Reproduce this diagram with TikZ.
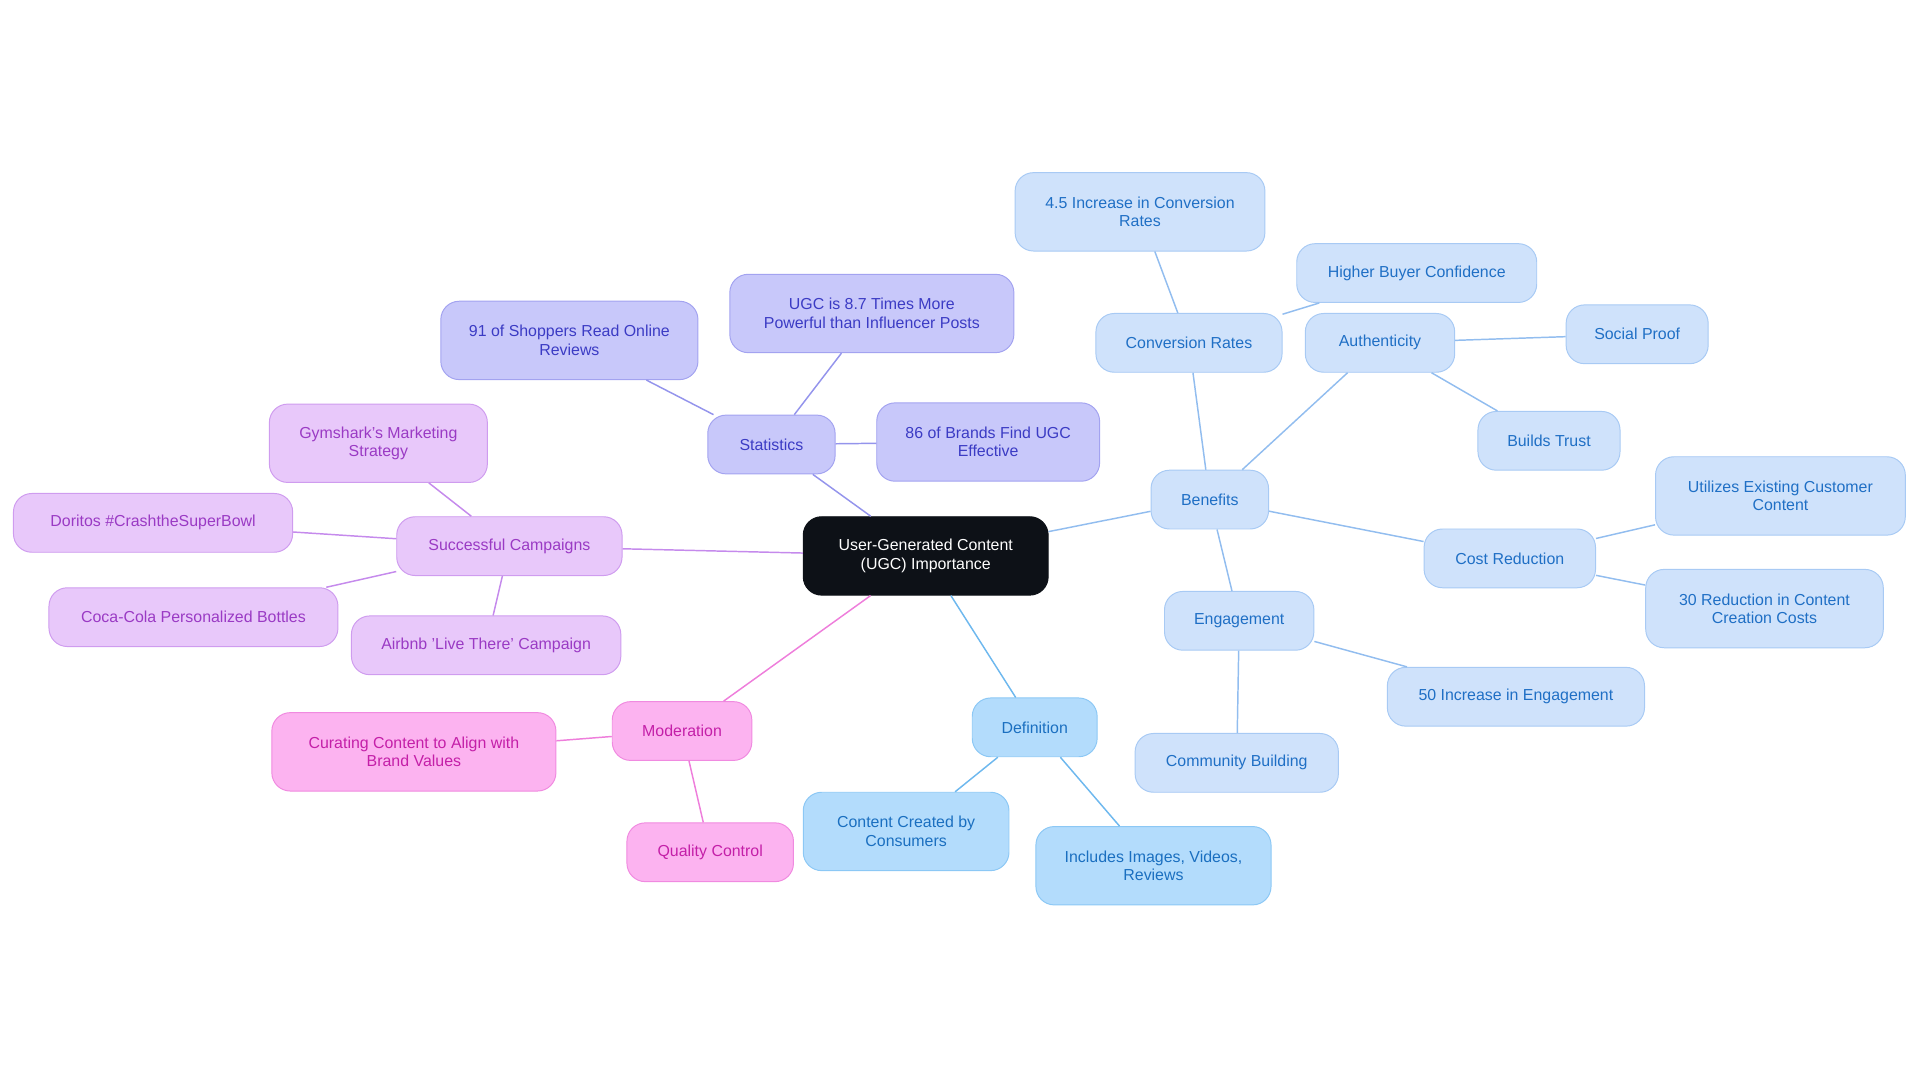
\documentclass[tikz,border=0pt]{standalone}
\usepackage{fontspec}
\setmainfont{Liberation Sans}
\begin{document}
\begin{tikzpicture}[x=1pt,y=-1pt,
  base/.style={rounded corners=15pt,align=center,minimum height=48pt,line width=0.8pt,font=\fontsize{13}{15}\selectfont,inner sep=2pt},
  two/.style={minimum height=64pt},
  bl/.style={base,fill=bfill,draw=bdraw,text=btext},
  df/.style={base,fill=dfill,draw=ddraw,text=dtext},
  st/.style={base,fill=sfill,draw=sdraw,text=stext},
  sc/.style={base,fill=cfill,draw=cdraw,text=ctext},
  md/.style={base,fill=mfill,draw=mdraw,text=mtext},
  eb/.style={draw=bline,line width=1.2pt},
  ed/.style={draw=dline,line width=1.2pt},
  es/.style={draw=sline,line width=1.2pt},
  ec/.style={draw=cline,line width=1.2pt},
  em/.style={draw=mline,line width=1.2pt}]
\definecolor{bfill}{HTML}{CFE2FB}\definecolor{bdraw}{HTML}{A8CAF4}\definecolor{btext}{HTML}{1F6FC5}\definecolor{bline}{HTML}{92BDEF}
\definecolor{dfill}{HTML}{B3DCFC}\definecolor{ddraw}{HTML}{8CC8F5}\definecolor{dtext}{HTML}{1A6FC0}\definecolor{dline}{HTML}{6EB8EE}
\definecolor{sfill}{HTML}{C8C8FA}\definecolor{sdraw}{HTML}{A3A3F0}\definecolor{stext}{HTML}{3B3BC4}\definecolor{sline}{HTML}{9494EC}
\definecolor{cfill}{HTML}{E8C8FA}\definecolor{cdraw}{HTML}{CF9CEF}\definecolor{ctext}{HTML}{9A3AC4}\definecolor{cline}{HTML}{C58AEC}
\definecolor{mfill}{HTML}{FCB3F0}\definecolor{mdraw}{HTML}{F08AE0}\definecolor{mtext}{HTML}{C41FA8}\definecolor{mline}{HTML}{EE7EDB}
\definecolor{cen}{HTML}{0D1117}
\useasboundingbox (0,0) rectangle (1568,884);
\node[base,fill=cen,draw=cen,text=white,minimum width=200pt,minimum height=64pt] (c) at (756,454) {User-Generated Content\\(UGC) Importance};
\node[bl,minimum width=96pt] (ben) at (988,408) {Benefits};
\node[bl,minimum width=152pt] (cr) at (971,280) {Conversion Rates};
\node[bl,two,minimum width=204pt] (cr1) at (931,173) {4.5 Increase in Conversion\\Rates};
\node[bl,minimum width=122pt] (au) at (1127,280) {Authenticity};
\node[bl,minimum width=196pt] (au1) at (1157,223) {Higher Buyer Confidence};
\node[bl,minimum width=116pt] (au2) at (1337,273) {Social Proof};
\node[bl,minimum width=116pt] (au3) at (1265,360) {Builds Trust};
\node[bl,minimum width=140pt] (co) at (1233,456) {Cost Reduction};
\node[bl,two,minimum width=204pt] (co1) at (1454,405) {Utilizes Existing Customer\\Content};
\node[bl,two,minimum width=194pt] (co2) at (1441,497) {30 Reduction in Content\\Creation Costs};
\node[bl,minimum width=122pt] (en) at (1012,507) {Engagement};
\node[bl,minimum width=210pt] (en1) at (1238,569) {50 Increase in Engagement};
\node[bl,minimum width=166pt] (en2) at (1010,623) {Community Building};
\node[df,minimum width=102pt] (de) at (845,594) {Definition};
\node[df,two,minimum width=168pt] (de1) at (740,679) {Content Created by\\Consumers};
\node[df,two,minimum width=192pt] (de2) at (942,707) {Includes Images, Videos,\\Reviews};
\node[st,minimum width=104pt] (s) at (630,363) {Statistics};
\node[st,two,minimum width=210pt] (s1) at (465,278) {91 of Shoppers Read Online\\Reviews};
\node[st,two,minimum width=232pt] (s2) at (712,256) {UGC is 8.7 Times More\\Powerful than Influencer Posts};
\node[st,two,minimum width=182pt] (s3) at (807,361) {86 of Brands Find UGC\\Effective};
\node[sc,minimum width=184pt] (sc) at (416,446) {Successful Campaigns};
\node[sc,two,minimum width=178pt] (sc1) at (309,362) {Gymshark's Marketing\\Strategy};
\node[sc,minimum width=228pt] (sc2) at (125,427) {Doritos \#CrashtheSuperBowl};
\node[sc,minimum width=236pt] (sc3) at (158,504) {Coca-Cola Personalized Bottles};
\node[sc,minimum width=220pt] (sc4) at (397,527) {Airbnb 'Live There' Campaign};
\node[md,minimum width=114pt] (m) at (557,597) {Moderation};
\node[md,two,minimum width=232pt] (m1) at (338,614) {Curating Content to Align with\\Brand Values};
\node[md,minimum width=136pt] (m2) at (580,696) {Quality Control};
\draw[eb] (c) -- (ben); \draw[eb] (ben) -- (cr); \draw[eb] (cr) -- (cr1); \draw[eb] (cr) -- (au1);
\draw[eb] (ben) -- (au); \draw[eb] (au) -- (au2); \draw[eb] (au) -- (au3);
\draw[eb] (ben) -- (co); \draw[eb] (co) -- (co1); \draw[eb] (co) -- (co2);
\draw[eb] (ben) -- (en); \draw[eb] (en) -- (en1); \draw[eb] (en) -- (en2);
\draw[ed] (c) -- (de); \draw[ed] (de) -- (de1); \draw[ed] (de) -- (de2);
\draw[es] (c) -- (s); \draw[es] (s) -- (s1); \draw[es] (s) -- (s2); \draw[es] (s) -- (s3);
\draw[ec] (c) -- (sc); \draw[ec] (sc) -- (sc1); \draw[ec] (sc) -- (sc2); \draw[ec] (sc) -- (sc3); \draw[ec] (sc) -- (sc4);
\draw[em] (c) -- (m); \draw[em] (m) -- (m1); \draw[em] (m) -- (m2);
\end{tikzpicture}
\end{document}
